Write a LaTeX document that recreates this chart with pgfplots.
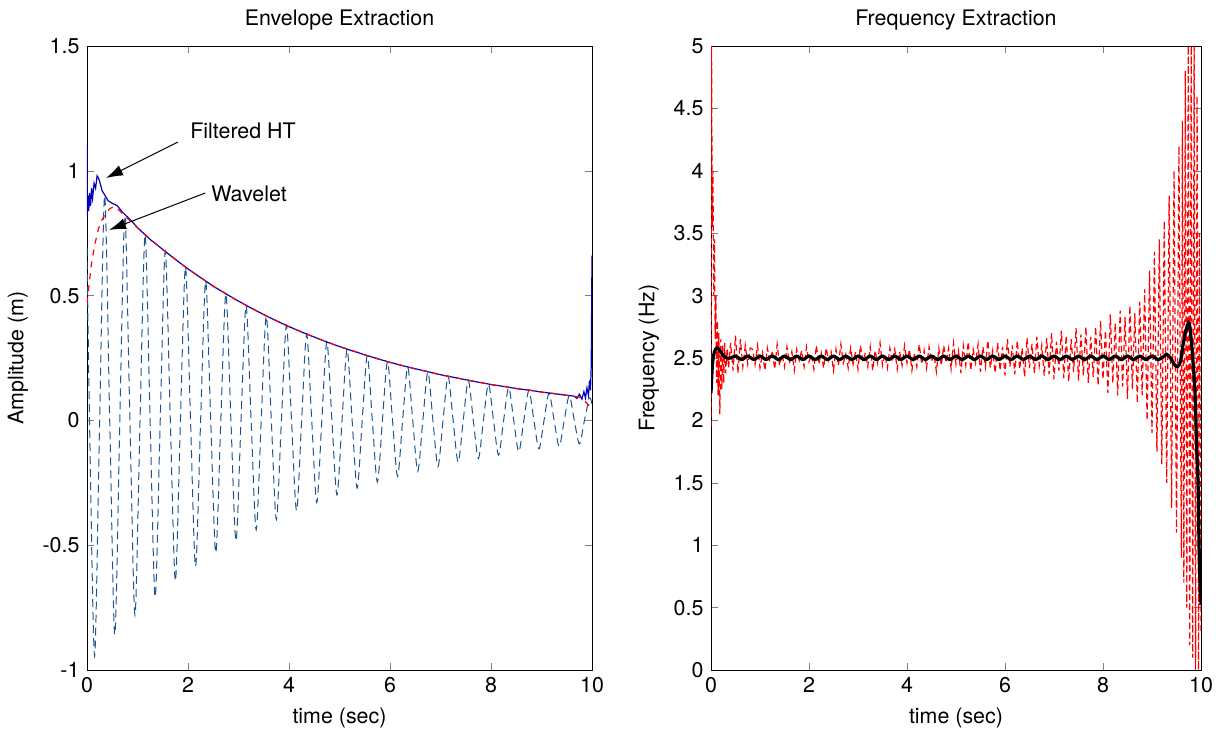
\documentclass[border=0pt]{standalone}
\usepackage{fontspec}
\setmainfont{TeX Gyre Heros}
\usepackage{pgfplots}
\pgfplotsset{compat=1.18}
\usetikzlibrary{arrows.meta}

\definecolor{sigblue}{RGB}{30,85,145}
\definecolor{htblue}{RGB}{0,0,190}

\pgfplotsset{
  matbox/.style={
    scale only axis,
    height=312pt,
    xmin=0, xmax=10,
    xtick={0,2,...,10},
    tick align=inside,
    major tick length=3.5pt,
    /pgf/number format/assume math mode=true,
    xlabel={time (sec)},
    title style={yshift=-2pt},
  },
}

\begin{document}
\fontsize{10.7}{13}\selectfont
\begin{tikzpicture}

% ---------- left: envelope ----------
\begin{axis}[matbox,
    at={(0pt,0pt)},
    width=252.5pt,
    ymin=-1, ymax=1.5,
    ytick={-1,-0.5,...,1.5},
    title={Envelope Extraction},
    ylabel={Amplitude (m)},
]
% measured signal
\addplot[sigblue, line width=0.5pt, dash pattern=on 4pt off 2.5pt, smooth] coordinates {
(0,0.69) (0.05,0) (0.15,-0.945) (0.25,0) (0.35,0.901) (0.45,0) (0.55,-0.859) (0.65,0)
(0.75,0.819) (0.85,0) (0.95,-0.780) (1.05,0) (1.15,0.744) (1.25,0) (1.35,-0.709) (1.45,0)
(1.55,0.676) (1.65,0) (1.75,-0.644) (1.85,0) (1.95,0.614) (2.05,0) (2.15,-0.585) (2.25,0)
(2.35,0.558) (2.45,0) (2.55,-0.531) (2.65,0) (2.75,0.507) (2.85,0) (2.95,-0.483) (3.05,0)
(3.15,0.460) (3.25,0) (3.35,-0.439) (3.45,0) (3.55,0.418) (3.65,0) (3.75,-0.398) (3.85,0)
(3.95,0.380) (4.05,0) (4.15,-0.362) (4.25,0) (4.35,0.345) (4.45,0) (4.55,-0.329) (4.65,0)
(4.75,0.314) (4.85,0) (4.95,-0.299) (5.05,0) (5.15,0.285) (5.25,0) (5.35,-0.271) (5.45,0)
(5.55,0.259) (5.65,0) (5.75,-0.247) (5.85,0) (5.95,0.235) (6.05,0) (6.15,-0.224) (6.25,0)
(6.35,0.214) (6.45,0) (6.55,-0.204) (6.65,0) (6.75,0.194) (6.85,0) (6.95,-0.185) (7.05,0)
(7.15,0.176) (7.25,0) (7.35,-0.168) (7.45,0) (7.55,0.160) (7.65,0) (7.75,-0.153) (7.85,0)
(7.95,0.146) (8.05,0) (8.15,-0.139) (8.25,0) (8.35,0.132) (8.45,0) (8.55,-0.126) (8.65,0)
(8.75,0.120) (8.85,0) (8.95,-0.114) (9.05,0) (9.15,0.109) (9.25,0) (9.35,-0.104) (9.45,0)
(9.55,0.099) (9.65,0) (9.75,-0.094) (9.85,0) (9.95,0.090) (10,0.064)
};
% filtered HT envelope
\addplot[htblue, line width=0.6pt] coordinates {
(0,1.1) (0.005,0.82) (0.02,0.9) (0.035,0.84) (0.05,0.91) (0.07,0.86) (0.09,0.93) (0.11,0.89)
(0.14,0.95) (0.17,0.93) (0.2,0.98) (0.23,0.97) (0.26,0.95) (0.3,0.92) (0.36,0.9) (0.42,0.88)
(0.5,0.87) (0.6,0.86) (0.7,0.835) (0.8,0.815) (0.9,0.795) (1.0,0.772) (1.25,0.725) (1.5,0.685)
(1.75,0.645) (2,0.607) (2.25,0.572) (2.5,0.538) (2.75,0.507) (3,0.478) (3.25,0.45) (3.5,0.424)
(3.75,0.399) (4,0.376) (4.25,0.354) (4.5,0.334) (4.75,0.314) (5,0.296) (5.25,0.279) (5.5,0.263)
(5.75,0.247) (6,0.233) (6.25,0.219) (6.5,0.207) (6.75,0.195) (7,0.183) (7.25,0.173) (7.5,0.163)
(7.75,0.153) (8,0.144) (8.25,0.136) (8.5,0.128) (8.75,0.121) (9,0.114) (9.25,0.107) (9.5,0.101)
(9.65,0.097) (9.7,0.088) (9.75,0.105) (9.8,0.085) (9.84,0.115) (9.87,0.09) (9.9,0.13) (9.93,0.1)
(9.95,0.16) (9.97,0.12) (9.985,0.22) (10,0.66)
};
% wavelet envelope
\addplot[red, line width=0.6pt, dash pattern=on 3pt off 3pt] coordinates {
(0,0.47) (0.05,0.56) (0.09,0.63) (0.16,0.71) (0.23,0.77) (0.29,0.8) (0.37,0.83) (0.46,0.85)
(0.55,0.856) (0.65,0.84) (0.75,0.818) (0.9,0.793) (1.0,0.772) (1.25,0.727) (1.5,0.684)
(1.75,0.646) (2,0.606) (2.25,0.573) (2.5,0.537) (2.75,0.508) (3,0.477) (3.25,0.451) (3.5,0.423)
(3.75,0.400) (4,0.375) (4.25,0.355) (4.5,0.333) (4.75,0.315) (5,0.295) (5.25,0.280) (5.5,0.262)
(5.75,0.248) (6,0.232) (6.25,0.220) (6.5,0.206) (6.75,0.196) (7,0.182) (7.25,0.174) (7.5,0.162)
(7.75,0.154) (8,0.143) (8.25,0.137) (8.5,0.127) (8.75,0.122) (9,0.113) (9.25,0.108) (9.5,0.100)
(9.65,0.096) (9.75,0.093) (9.82,0.085) (9.88,0.072) (9.93,0.062) (9.96,0.058)
};
\node[anchor=west, inner sep=0pt] at (axis cs:2.04,1.16) {Filtered HT};
\node[anchor=west, inner sep=0pt] at (axis cs:2.455,0.907) {Wavelet};
\draw[line width=0.5pt, -{Latex[length=8.5pt,width=5.5pt]}] (axis cs:1.80,1.115) -- (axis cs:0.376,0.971);
\draw[line width=0.5pt, -{Latex[length=8.5pt,width=5.5pt]}] (axis cs:2.34,0.911) -- (axis cs:0.436,0.763);
\end{axis}

% ---------- right: frequency ----------
\begin{axis}[matbox,
    at={(312pt,0pt)},
    width=245pt,
    ymin=0, ymax=5,
    ytick={0,0.5,...,5},
    title={Frequency Extraction},
    ylabel={Frequency (Hz)},
]
\addplot[red, line width=0.6pt, dash pattern=on 3pt off 1.8pt] coordinates {
(0,1.95) (0.012,5.0) (0.025,3.55) (0.04,4.0) (0.055,3.0) (0.07,3.45) (0.085,2.65) (0.1,3.0)
(0.115,2.3) (0.13,2.8) (0.145,2.2) (0.16,2.7) (0.18,2.05) (0.2,2.65) (0.22,2.25) (0.24,2.6)
(0.26,2.3) (0.28,2.62) (0.3,2.38) (0.33,2.58) (0.36,2.42) (0.4,2.62) (0.45,2.4) (0.5,2.68)
(0.55,2.38) (0.6,2.65) (0.65,2.43) (0.7,2.6) (0.75,2.45) (0.8,2.58)
(0.85,2.57) (0.9,2.45) (0.95,2.60) (1.0,2.42) (1.05,2.54) (1.1,2.40) (1.15,2.58) (1.2,2.47)
(1.25,2.56) (1.3,2.41) (1.35,2.61) (1.4,2.44) (1.45,2.53) (1.5,2.43) (1.55,2.59) (1.6,2.46)
(1.65,2.55) (1.7,2.40) (1.75,2.57) (1.8,2.48)
(1.85,2.56) (1.9,2.43) (1.95,2.59) (2.0,2.47) (2.05,2.53) (2.1,2.41) (2.15,2.60) (2.2,2.45)
(2.25,2.54) (2.3,2.42) (2.35,2.58) (2.4,2.48) (2.45,2.55) (2.5,2.40) (2.55,2.57) (2.6,2.44)
(2.65,2.61) (2.7,2.46) (2.75,2.53) (2.8,2.42)
(2.85,2.58) (2.9,2.45) (2.95,2.55) (3.0,2.41) (3.05,2.60) (3.1,2.47) (3.15,2.54) (3.2,2.43)
(3.25,2.59) (3.3,2.40) (3.35,2.56) (3.4,2.46) (3.45,2.62) (3.5,2.44) (3.55,2.53) (3.6,2.42)
(3.65,2.58) (3.7,2.47) (3.75,2.57) (3.8,2.41)
(3.85,2.55) (3.9,2.44) (3.95,2.60) (4.0,2.46) (4.05,2.57) (4.1,2.40) (4.15,2.54) (4.2,2.43)
(4.25,2.61) (4.3,2.45) (4.35,2.56) (4.4,2.42) (4.45,2.59) (4.5,2.47) (4.55,2.53) (4.6,2.39)
(4.65,2.58) (4.7,2.44) (4.75,2.60) (4.8,2.46)
(4.85,2.58) (4.9,2.41) (4.95,2.62) (5.0,2.45) (5.05,2.56) (5.1,2.38) (5.15,2.60) (5.2,2.44)
(5.25,2.63) (5.3,2.40) (5.35,2.57) (5.4,2.46) (5.45,2.61) (5.5,2.39) (5.55,2.59) (5.6,2.43)
(5.65,2.64) (5.7,2.42) (5.75,2.56) (5.8,2.38)
(5.85,2.62) (5.9,2.40) (5.95,2.59) (6.0,2.36) (6.05,2.65) (6.1,2.43) (6.15,2.60) (6.2,2.37)
(6.25,2.64) (6.3,2.41) (6.35,2.58) (6.4,2.35) (6.45,2.66) (6.5,2.42) (6.55,2.61) (6.6,2.38)
(6.65,2.67) (6.7,2.44) (6.75,2.60) (6.8,2.36)
(6.85,2.66) (6.9,2.37) (6.95,2.70) (7.0,2.33) (7.05,2.63) (7.1,2.40) (7.15,2.72) (7.2,2.34)
(7.25,2.68) (7.3,2.31) (7.35,2.65) (7.4,2.39) (7.45,2.74) (7.5,2.32) (7.55,2.69) (7.6,2.36)
(7.65,2.75) (7.7,2.30) (7.75,2.67) (7.8,2.35)
(7.85,2.75) (7.9,2.28) (7.95,2.80) (8.0,2.33) (8.05,2.72) (8.1,2.22) (8.15,2.85) (8.2,2.30)
(8.25,2.78) (8.3,2.20) (8.35,2.88) (8.4,2.27) (8.45,2.83) (8.5,2.17) (8.55,2.92) (8.6,2.25)
(8.65,2.86) (8.7,2.14) (8.75,2.95) (8.8,2.20)
(8.85,3.05) (8.9,2.0) (8.95,3.2) (9.0,1.9) (9.05,3.35) (9.1,1.75) (9.15,3.45) (9.2,1.65)
(9.25,3.6) (9.3,1.5) (9.35,3.8) (9.4,1.3) (9.45,4.0) (9.5,1.1) (9.55,4.2) (9.6,0.9)
(9.62,4.4) (9.65,0.7) (9.68,4.8) (9.71,0.5) (9.74,5.0) (9.77,0.2) (9.8,5.0) (9.83,0.1)
(9.86,5.0) (9.89,0.0) (9.92,4.6) (9.95,0.0) (9.97,3.5) (10,0.3)
};
\addplot[black, line width=1.6pt, smooth] coordinates {
(0,2.22) (0.03,2.45) (0.07,2.55) (0.12,2.58) (0.18,2.56) (0.25,2.52) (0.32,2.5) (0.4,2.5)
(0.5,2.515) (0.625,2.488) (0.75,2.515) (0.875,2.488) (1.0,2.515) (1.125,2.488) (1.25,2.515) (1.375,2.488)
(1.5,2.515) (1.625,2.488) (1.75,2.515) (1.875,2.488) (2.0,2.515) (2.125,2.488) (2.25,2.515) (2.375,2.488)
(2.5,2.515) (2.625,2.488) (2.75,2.515) (2.875,2.488) (3.0,2.515) (3.125,2.488) (3.25,2.515) (3.375,2.488)
(3.5,2.515) (3.625,2.488) (3.75,2.515) (3.875,2.488) (4.0,2.515) (4.125,2.488) (4.25,2.515) (4.375,2.488)
(4.5,2.515) (4.625,2.488) (4.75,2.515) (4.875,2.488) (5.0,2.515) (5.125,2.488) (5.25,2.515) (5.375,2.488)
(5.5,2.515) (5.625,2.488) (5.75,2.515) (5.875,2.488) (6.0,2.515) (6.125,2.488) (6.25,2.515) (6.375,2.488)
(6.5,2.515) (6.625,2.488) (6.75,2.515) (6.875,2.488) (7.0,2.515) (7.125,2.488) (7.25,2.515) (7.375,2.488)
(7.5,2.515) (7.625,2.488) (7.75,2.515) (7.875,2.488) (8.0,2.515) (8.125,2.488) (8.25,2.515) (8.375,2.488)
(8.5,2.515) (8.625,2.488) (8.75,2.515) (8.875,2.488) (9.0,2.515) (9.125,2.488) (9.25,2.515)
(9.3,2.53) (9.38,2.5) (9.45,2.45) (9.52,2.43) (9.58,2.47) (9.63,2.6) (9.68,2.7) (9.73,2.77)
(9.76,2.78) (9.8,2.65) (9.84,2.45) (9.88,2.2) (9.91,1.8) (9.94,1.5) (9.96,1.0) (9.98,0.7) (10,0.52)
};
\end{axis}

\pgfresetboundingbox
\useasboundingbox (-43.5pt,-33pt) rectangle (567.5pt,335pt);
\end{tikzpicture}
\end{document}
